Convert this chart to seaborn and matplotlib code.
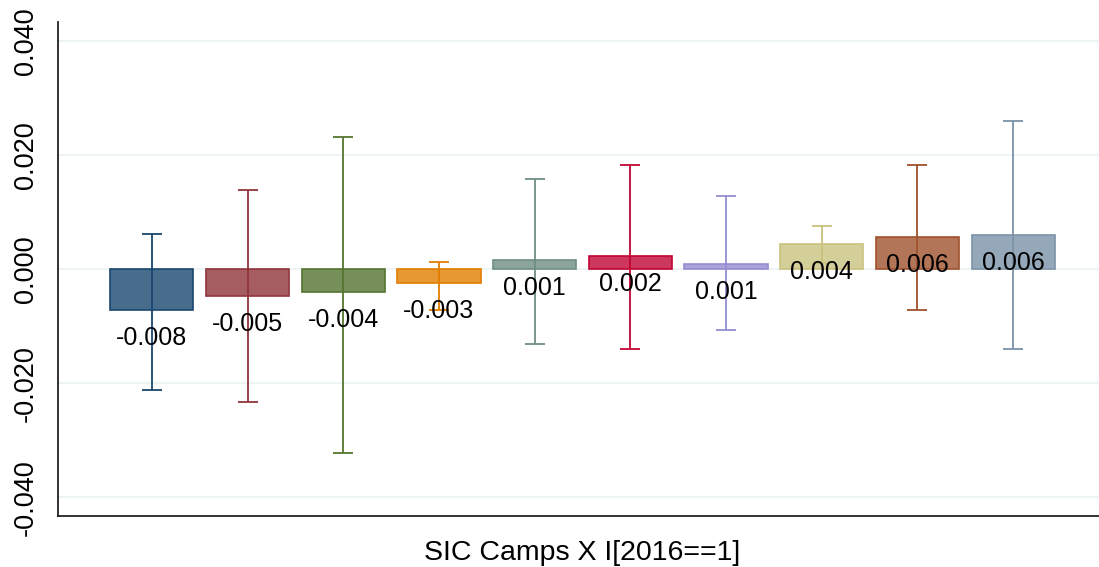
import numpy as np
import pandas as pd
import matplotlib
matplotlib.use('Agg')
import matplotlib.pyplot as plt
import matplotlib.colors as mcolors
import seaborn as sns

# datos
grupos = ['g1', 'g2', 'g3', 'g4', 'g5', 'g6', 'g7', 'g8', 'g9', 'g10']
coef = [-0.0072, -0.0047, -0.0041, -0.0025, 0.0015, 0.0022, 0.0009, 0.0043, 0.0056, 0.0059]
ci_bajo = [-0.0212, -0.0234, -0.0322, -0.0072, -0.0132, -0.0140, -0.0107, 0.0010, -0.0071, -0.0140]
ci_alto = [0.0061, 0.0138, 0.0231, 0.0012, 0.0158, 0.0183, 0.0128, 0.0076, 0.0183, 0.0259]
etiquetas = ['-0.008', '-0.005', '-0.004', '-0.003', '0.001', '0.002', '0.001', '0.004', '0.006', '0.006']
colores = ['#1a476f', '#90353b', '#55752f', '#e37e00', '#6e8e84',
           '#c10534', '#938dd2', '#cac27e', '#a0522d', '#7b92a8']
yticks = [-0.04, -0.02, 0.0, 0.02, 0.04]

df = pd.DataFrame({'grupo': grupos, 'coef': coef})

sns.set_style('white')
plt.rcParams['font.family'] = ['Liberation Sans', 'DejaVu Sans']

fig = plt.figure(figsize=(10.99, 5.67), dpi=100)
ax = fig.add_axes([58 / 1099, 1 - 516 / 567, 1049 / 1099, 494 / 567])

sns.barplot(data=df, x='grupo', y='coef', hue='grupo', palette=colores,
            legend=False, width=0.87, errorbar=None, ax=ax, zorder=2)

for i, p in enumerate(ax.patches):
    c = mcolors.to_rgb(colores[i])
    p.set_facecolor((*c, 0.8))
    p.set_edgecolor(c)
    p.set_linewidth(1.2)

x = np.arange(len(grupos))
for i in range(len(grupos)):
    ax.errorbar(x[i], coef[i],
                yerr=[[coef[i] - ci_bajo[i]], [ci_alto[i] - coef[i]]],
                fmt='none', ecolor=colores[i], elinewidth=1.3,
                capsize=7, capthick=1.3, zorder=3)
    ax.annotate(etiquetas[i], (x[i], coef[i]), xytext=(0, -20),
                textcoords='offset points', ha='center', va='center',
                fontsize=18, color='black', zorder=4)

ax.set_xlim(-0.98, 9.98)
ax.set_ylim(-0.0433, 0.0433)
ax.set_yticks(yticks)
ax.set_yticklabels(['%.3f' % v for v in yticks], rotation=90, va='center',
                   fontsize=19.5, color='black')
ax.set_xticks([4.5])
ax.set_xticklabels([''])
ax.set_xlabel('SIC Camps X I[2016==1]', fontsize=20.5, color='black', labelpad=6)
ax.set_ylabel('')
ax.grid(axis='y', color='#eaf2f3', linewidth=1.2, zorder=0)
ax.set_axisbelow(True)

for s in ['top', 'right']:
    ax.spines[s].set_visible(False)
for s in ['left', 'bottom']:
    ax.spines[s].set_color('#222222')
    ax.spines[s].set_linewidth(1.3)
ax.tick_params(axis='y', length=10, width=1.2, color='#222222', pad=4)
ax.tick_params(axis='x', length=8, width=1.2, color='#222222')

fig.savefig('out.png', dpi=100)
